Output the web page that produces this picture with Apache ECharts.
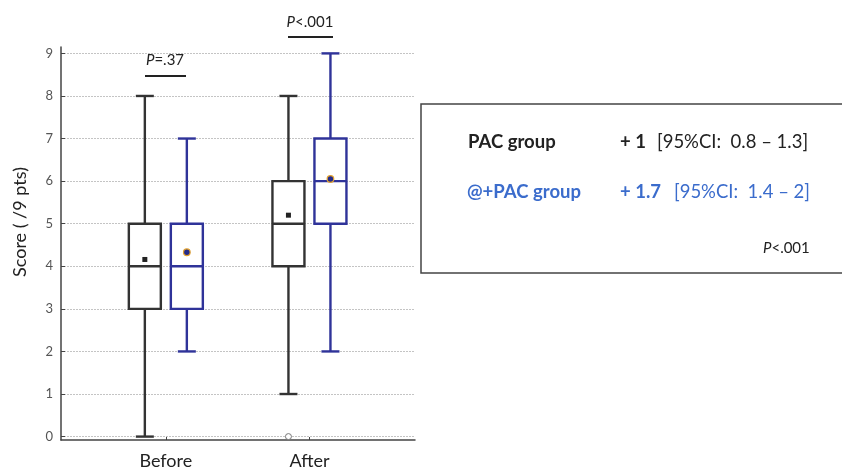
<!DOCTYPE html>
<html>
<head>
<meta charset="utf-8">
<script src="https://cdn.jsdelivr.net/npm/echarts@6/dist/echarts.min.js"></script>
<style>
  html, body { margin: 0; padding: 0; background: #fff; }
  #chart { width: 842px; height: 470px; }
</style>
</head>
<body>
<div id="chart"></div>
<script>
// categories on the x axis (positions 1 and 2)
const categories = ['Before', 'After'];
const yTicks = [0, 1, 2, 3, 4, 5, 6, 7, 8, 9];

// [position, min, q1, median, q3, max, mean]
const pacBoxes = [
  [1, 0, 3, 4, 5, 8, 4.16],
  [2, 1, 4, 5, 6, 8, 5.2]
];
const atPacBoxes = [
  [1, 2, 3, 4, 5, 7, 4.33],
  [2, 2, 5, 6, 7, 9, 6.05]
];
// [position, value]
const pacOutliers = [[2, 0]];
const atPacOutliers = [];

const BLACK = '#333333';
const NAVY = '#2f3399';
const TEXT_BLUE = '#3b6ccc';
const FONT = 'Lato, "Liberation Sans", sans-serif';

const chart = echarts.init(document.getElementById('chart'));

function makeBoxRenderer(color, dx, meanStyle) {
  return function (params, api) {
    const pos = api.value(0);
    const cx = api.coord([pos, 0])[0] + dx;
    const y = v => api.coord([pos, v])[1];
    const vMin = api.value(1), q1 = api.value(2), med = api.value(3);
    const q3 = api.value(4), vMax = api.value(5), mean = api.value(6);
    const half = 16, cap = 9;
    const line = { stroke: color, lineWidth: 2.4, fill: 'none' };
    const children = [
      { type: 'line', shape: { x1: cx, y1: y(vMax), x2: cx, y2: y(q3) }, style: line },
      { type: 'line', shape: { x1: cx, y1: y(q1), x2: cx, y2: y(vMin) }, style: line },
      { type: 'line', shape: { x1: cx - cap, y1: y(vMax), x2: cx + cap, y2: y(vMax) }, style: line },
      { type: 'line', shape: { x1: cx - cap, y1: y(vMin), x2: cx + cap, y2: y(vMin) }, style: line },
      { type: 'rect', shape: { x: cx - half, y: y(q3), width: half * 2, height: y(q1) - y(q3) }, style: line },
      { type: 'line', shape: { x1: cx - half, y1: y(med), x2: cx + half, y2: y(med) }, style: line }
    ];
    if (meanStyle === 'square') {
      children.push({ type: 'rect', shape: { x: cx - 2.5, y: y(mean) - 2.5, width: 5, height: 5 }, style: { fill: '#222' } });
    } else {
      children.push({ type: 'circle', shape: { cx: cx, cy: y(mean), r: 3.3 }, style: { fill: '#232a8a', stroke: '#e0a030', lineWidth: 1.2 } });
    }
    return { type: 'group', children: children };
  };
}

function makeOutlierRenderer(dx) {
  return function (params, api) {
    const p = api.coord([api.value(0), api.value(1)]);
    return { type: 'circle', shape: { cx: p[0] + dx, cy: p[1], r: 3 }, style: { fill: '#fff', stroke: '#777', lineWidth: 1 } };
  };
}

chart.setOption({
  animation: false,
  grid: { left: 61, right: 427, top: 47, bottom: 28 },
  xAxis: {
    type: 'value',
    min: 0.27,
    max: 2.735,
    axisLine: { show: true, onZero: false, lineStyle: { color: '#444', width: 1.5 } },
    axisTick: { show: true, inside: true, length: 3, customValues: [1, 2], lineStyle: { color: '#444' } },
    axisLabel: {
      customValues: [1, 2],
      formatter: v => categories[Math.round(v) - 1],
      fontFamily: FONT, fontSize: 18, color: '#222', margin: 12
    },
    splitLine: { show: false }
  },
  yAxis: {
    type: 'value',
    min: -0.08,
    max: 9.15,
    axisLine: { show: true, onZero: false, lineStyle: { color: '#444', width: 1.5 } },
    axisTick: { show: true, inside: true, length: 4, customValues: yTicks, lineStyle: { color: '#444' } },
    axisLabel: { customValues: yTicks, fontFamily: FONT, fontSize: 13, color: '#555', margin: 8 },
    splitLine: { show: true, lineStyle: { color: '#c4c4c4', type: [2, 1], width: 1 } }
  },
  series: [
    { type: 'custom', name: 'PAC group', data: pacBoxes, renderItem: makeBoxRenderer(BLACK, -21, 'square'), clip: false, z: 3 },
    { type: 'custom', name: '@+PAC group', data: atPacBoxes, renderItem: makeBoxRenderer(NAVY, 21, 'dot'), clip: false, z: 3 },
    { type: 'custom', data: pacOutliers, renderItem: makeOutlierRenderer(-21), clip: false, z: 4 },
    { type: 'custom', data: atPacOutliers, renderItem: makeOutlierRenderer(21), clip: false, z: 4 }
  ],
  graphic: [
    // y axis title
    {
      type: 'text', x: 20, y: 222, rotation: Math.PI / 2,
      style: { text: 'Score ( /9 pts)', fontFamily: FONT, fontSize: 18, fill: '#222', align: 'center', verticalAlign: 'middle' }
    },
    // significance annotations
    {
      type: 'text', x: 165, y: 60,
      style: {
        text: '{i|P}=.37', align: 'center', verticalAlign: 'middle', fontFamily: FONT, fontSize: 15, fill: '#222',
        rich: { i: { fontStyle: 'italic', fontFamily: FONT, fontSize: 15, fill: '#222' } }
      }
    },
    { type: 'line', shape: { x1: 145, y1: 76, x2: 186, y2: 76 }, style: { stroke: '#222', lineWidth: 2 } },
    {
      type: 'text', x: 310, y: 22,
      style: {
        text: '{i|P}<.001', align: 'center', verticalAlign: 'middle', fontFamily: FONT, fontSize: 15, fill: '#222',
        rich: { i: { fontStyle: 'italic', fontFamily: FONT, fontSize: 15, fill: '#222' } }
      }
    },
    { type: 'line', shape: { x1: 288, y1: 37, x2: 333, y2: 37 }, style: { stroke: '#222', lineWidth: 2 } },
    // summary panel
    { type: 'rect', shape: { x: 421, y: 104, width: 440, height: 169 }, style: { fill: 'none', stroke: '#444', lineWidth: 1.5 } },
    { type: 'text', x: 468, y: 142, style: { text: 'PAC group', fontFamily: FONT, fontSize: 18.5, fontWeight: 'bold', fill: '#222', verticalAlign: 'middle' } },
    { type: 'text', x: 620, y: 142, style: { text: '+ 1', fontFamily: FONT, fontSize: 18.5, fontWeight: 'bold', fill: '#222', verticalAlign: 'middle' } },
    { type: 'text', x: 657, y: 142, style: { text: '[95%CI:  0.8 \u2013 1.3]', fontFamily: FONT, fontSize: 18.5, fill: '#222', verticalAlign: 'middle' } },
    { type: 'text', x: 467, y: 192, style: { text: '@+PAC group', fontFamily: FONT, fontSize: 18.5, fontWeight: 'bold', fill: TEXT_BLUE, verticalAlign: 'middle' } },
    { type: 'text', x: 620, y: 192, style: { text: '+ 1.7', fontFamily: FONT, fontSize: 18.5, fontWeight: 'bold', fill: TEXT_BLUE, verticalAlign: 'middle' } },
    { type: 'text', x: 674, y: 192, style: { text: '[95%CI:  1.4 \u2013 2]', fontFamily: FONT, fontSize: 18.5, fill: TEXT_BLUE, verticalAlign: 'middle' } },
    {
      type: 'text', x: 763, y: 248,
      style: {
        text: '{i|P}<.001', verticalAlign: 'middle', fontFamily: FONT, fontSize: 15, fill: '#222',
        rich: { i: { fontStyle: 'italic', fontFamily: FONT, fontSize: 15, fill: '#222' } }
      }
    }
  ]
});
</script>
</body>
</html>
